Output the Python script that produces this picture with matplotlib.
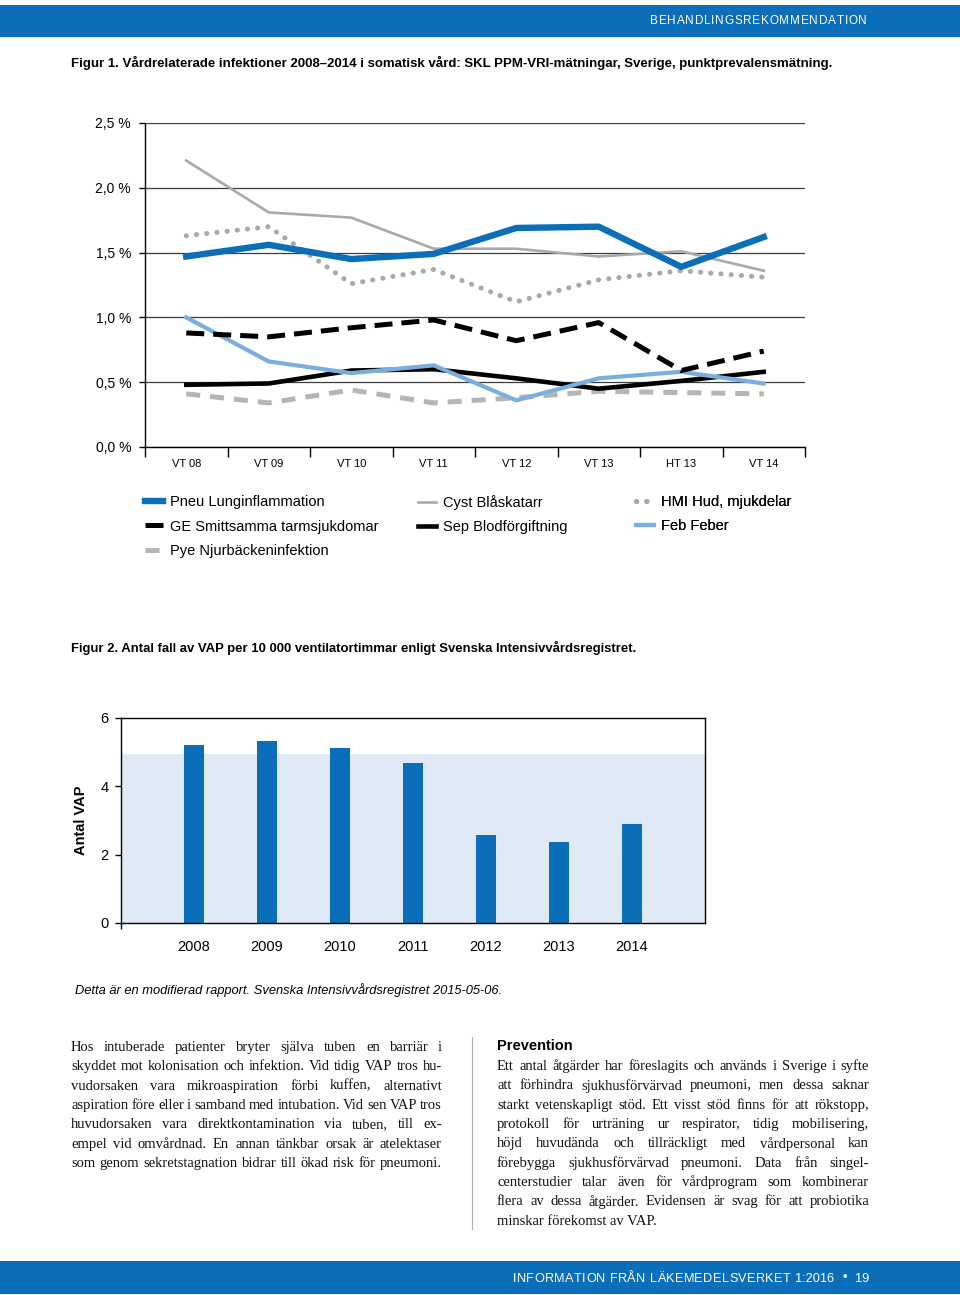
import matplotlib
matplotlib.use("Agg")
import matplotlib.pyplot as plt
from matplotlib.lines import Line2D
from matplotlib.patches import Rectangle
import numpy as np

W, H = 960, 1295

# --- Figur 1: punktprevalens per infektionstyp (%) ---
perioder = ["VT 08", "VT 09", "VT 10", "VT 11", "VT 12", "VT 13", "HT 13", "VT 14"]
pneu = [1.47, 1.56, 1.45, 1.49, 1.69, 1.70, 1.39, 1.62]
cyst = [2.21, 1.81, 1.77, 1.53, 1.53, 1.47, 1.51, 1.36]
hmi = [1.63, 1.70, 1.26, 1.37, 1.12, 1.29, 1.36, 1.31]
ge = [0.88, 0.85, 0.92, 0.98, 0.82, 0.96, 0.59, 0.74]
sep = [0.48, 0.49, 0.59, 0.60, 0.53, 0.45, 0.51, 0.58]
feb = [1.00, 0.66, 0.57, 0.63, 0.36, 0.53, 0.58, 0.49]
pye = [0.41, 0.34, 0.44, 0.34, 0.38, 0.43, 0.42, 0.41]
y_ticks1 = [0.0, 0.5, 1.0, 1.5, 2.0, 2.5]

# --- Figur 2: VAP per 10 000 ventilatortimmar ---
ar = [2008, 2009, 2010, 2011, 2012, 2013, 2014]
vap = [5.22, 5.33, 5.13, 4.67, 2.59, 2.36, 2.91]
vap_niva = 4.95
y_ticks2 = [0, 2, 4, 6]

# --- text ---
header = "BEHANDLINGSREKOMMENDATION"
footer = "INFORMATION FRÅN LÄKEMEDELSVERKET 1:2016  •  19"
titel1 = ("Figur 1. Vårdrelaterade infektioner 2008–2014 i somatisk vård: "
          "SKL PPM-VRI-mätningar, Sverige, punktprevalensmätning.")
titel2 = "Figur 2. Antal fall av VAP per 10 000 ventilatortimmar enligt Svenska Intensivvårdsregistret."
kalla = "Detta är en modifierad rapport. Svenska Intensivvårdsregistret 2015-05-06."
vanster = [
    "Hos intuberade patienter bryter själva tuben en barriär i",
    "skyddet mot kolonisation och infektion. Vid tidig VAP tros hu-",
    "vudorsaken vara mikroaspiration förbi kuffen, alternativt",
    "aspiration före eller i samband med intubation. Vid sen VAP tros",
    "huvudorsaken vara direktkontamination via tuben, till ex-",
    "empel vid omvårdnad. En annan tänkbar orsak är atelektaser",
    "som genom sekretstagnation bidrar till ökad risk för pneumoni.",
]
hoger = [
    "Ett antal åtgärder har föreslagits och används i Sverige i syfte",
    "att förhindra sjukhusförvärvad pneumoni, men dessa saknar",
    "starkt vetenskapligt stöd. Ett visst stöd finns för att rökstopp,",
    "protokoll för urträning ur respirator, tidig mobilisering,",
    "höjd huvudända och tillräckligt med vårdpersonal kan",
    "förebygga sjukhusförvärvad pneumoni. Data från singel-",
    "centerstudier talar även för vårdprogram som kombinerar",
    "flera av dessa åtgärder. Evidensen är svag för att probiotika",
    "minskar förekomst av VAP.",
]

BLUE = "#0a6fb8"
SANS = "Liberation Sans"
SERIF = "Liberation Serif"

fig = plt.figure(figsize=(9.6, 12.95), dpi=100)
renderer = fig.canvas.get_renderer()


def fx(x):
    return x / W


def fy(y):
    return 1 - y / H


def text_width(s, **kw):
    t = fig.text(0, 0, s, **kw)
    w = t.get_window_extent(renderer=renderer).width
    t.remove()
    return w


def spread(tokens, widths, x0, x1, y, **kw):
    gap = (x1 - x0 - sum(widths)) / max(len(tokens) - 1, 1)
    x = x0
    for tok, w in zip(tokens, widths):
        if tok.strip():
            fig.text(fx(x), fy(y), tok, ha="left", va="center_baseline", **kw)
        x += w + gap


def tracked(s, x0, x1, y, **kw):
    # bokstäver spärras var för sig, siffergrupper hålls ihop
    sp = text_width("a a", **kw) - text_width("aa", **kw)
    tokens = []
    for i, word in enumerate(s.split(" ")):
        if i:
            tokens.append(" ")
        if word.isalpha():
            tokens.extend(word)
        elif word:
            tokens.append(word)
    widths = [sp if t == " " else text_width(t, **kw) for t in tokens]
    spread(tokens, widths, x0, x1, y, **kw)


def justify(lines, x0, x1, y0, step, **kw):
    for i, line in enumerate(lines):
        y = y0 + i * step
        if i == len(lines) - 1 and text_width(line, **kw) < 0.9 * (x1 - x0):
            fig.text(fx(x0), fy(y), line, ha="left", va="center_baseline", **kw)
            continue
        words = line.split()
        widths = [text_width(w, **kw) for w in words]
        spread(words, widths, x0, x1, y, **kw)


def fit_size(s, target, base=10, **kw):
    return base * target / text_width(s, size=base, **kw)


def words_ratio(lines, target, min_gap, base, **kw):
    out = []
    for l in lines:
        words = l.split()
        tot = sum(text_width(w, size=base, **kw) for w in words)
        out.append((target - min_gap * (len(words) - 1)) / tot)
    return min(out)


# --- band uppe och nere ---
fig.patches.append(Rectangle((0, fy(37)), 1, 32 / H, transform=fig.transFigure,
                             color=BLUE, lw=0))
fig.patches.append(Rectangle((0, fy(1294)), 1, 33 / H, transform=fig.transFigure,
                             color=BLUE, lw=0))
tracked(header, 650, 867, 20, family=SANS, size=8.5, color="white")
tracked(footer, 513, 869, 1277, family=SANS, size=9.2, color="white")

# --- rubriker ---
fig.text(fx(71), fy(61), titel1, ha="left", va="center_baseline", family=SANS,
         weight="bold", size=fit_size(titel1, 765, family=SANS, weight="bold"))
fig.text(fx(71), fy(646), titel2, ha="left", va="center_baseline", family=SANS,
         weight="bold", size=fit_size(titel2, 572, family=SANS, weight="bold"))
fig.text(fx(75), fy(989), kalla, ha="left", va="center_baseline", family=SANS,
         style="italic", size=fit_size(kalla, 429, family=SANS, style="italic"))

# --- Figur 1 ---
ax1 = fig.add_axes([fx(145), fy(447), (805 - 145) / W, (447 - 123) / H])
x = np.arange(len(perioder))
l_cyst, = ax1.plot(x, cyst, color="#a9a9a9", lw=1.9, label="Cyst Blåskatarr")
l_hmi, = ax1.plot(x, hmi, color="#a9a9a9", lw=3.6, ls=(0, (0.05, 2.0)),
                  dash_capstyle="round", label="HMI Hud, mjukdelar")
l_pneu, = ax1.plot(x, pneu, color=BLUE, lw=4.6, label="Pneu Lunginflammation")
l_pye, = ax1.plot(x, pye, color="#b5b5b5", lw=3.6, ls=(0, (2.8, 2.0)),
                  label="Pye Njurbäckeninfektion")
l_sep, = ax1.plot(x, sep, color="black", lw=3.3, label="Sep Blodförgiftning")
l_feb, = ax1.plot(x, feb, color="#7aaee0", lw=3.0, label="Feb Feber")
l_ge, = ax1.plot(x, ge, color="black", lw=3.6, ls=(0, (3.6, 1.8)),
                 label="GE Smittsamma tarmsjukdomar")

ax1.set_xlim(-0.5, len(perioder) - 0.5)
ax1.set_ylim(0, 2.5)
ax1.set_yticks(y_ticks1)
ax1.set_yticklabels([f"{v:.1f} %".replace(".", ",") for v in y_ticks1],
                    family=SANS, size=10)
ax1.set_xticks(np.arange(len(perioder) + 1) - 0.5)
ax1.set_xticklabels([])
ax1.set_xticks(x, minor=True)
ax1.set_xticklabels(perioder, minor=True, family=SANS, size=8)
ax1.tick_params(axis="x", which="major", length=7, width=1, direction="out")
ax1.tick_params(axis="x", which="minor", length=0, pad=9)
ax1.tick_params(axis="y", length=4, width=1, pad=6)
ax1.yaxis.grid(True, color="#3c3c3c", lw=0.9)
ax1.set_axisbelow(True)
for s in ["top", "right"]:
    ax1.spines[s].set_visible(False)
for s in ["left", "bottom"]:
    ax1.spines[s].set_linewidth(1.0)
    ax1.spines[s].set_color("black")

leg_kw = dict(loc="upper left", bbox_transform=fig.transFigure, frameon=False,
              borderpad=0, borderaxespad=0, handlelength=1.2, handletextpad=0.5,
              labelspacing=0.72, prop={"family": SANS, "size": 10.5})
for handles, xpos in [([l_pneu, l_ge, l_pye], 145),
                      ([l_cyst, l_sep], 418),
                      ([l_hmi, l_feb], 636)]:
    leg = ax1.legend(handles=handles, bbox_to_anchor=(fx(xpos), fy(495)), **leg_kw)
    ax1.add_artist(leg)

# --- Figur 2 ---
ax2 = fig.add_axes([fx(121), fy(923), (705 - 121) / W, (923 - 718) / H])
ax2.axhspan(0, vap_niva, color="#dfeaf6", lw=0, zorder=0)
ax2.bar(ar, vap, width=0.28, color=BLUE, zorder=2)
ax2.set_xlim(ar[0] - 1, ar[-1] + 1)
ax2.set_ylim(0, 6)
ax2.set_yticks(y_ticks2)
ax2.set_yticklabels([str(v) for v in y_ticks2], family=SANS, size=10.5)
ax2.set_xticks(ar)
ax2.set_xticklabels([str(a) for a in ar], family=SANS, size=10.5)
ax2.set_xticks([ar[0] - 1], minor=True)
ax2.tick_params(axis="x", which="major", length=0, pad=12)
ax2.tick_params(axis="x", which="minor", length=4, width=1)
ax2.tick_params(axis="y", length=4, width=1, pad=5)
ax2.set_ylabel("Antal VAP", family=SANS, weight="bold", size=10.5, labelpad=9)
for s in ax2.spines.values():
    s.set_linewidth(1.0)
    s.set_color("black")

# --- brödtext ---
step = (1162 - 1046) / 6
base = 10
ratio = min(words_ratio(vanster, 371, 2.5, base, family=SERIF),
            words_ratio(hoger[:-1], 372, 2.5, base, family=SERIF))
body = dict(family=SERIF, size=base * ratio * 0.99, color="#111111")
justify(vanster, 71, 442, 1046, step, **body)
fig.text(fx(497), fy(1045), "Prevention", ha="left", va="center_baseline",
         family=SANS, weight="bold", size=10.5)
justify(hoger, 497, 869, 1065, step, **body)
fig.add_artist(Line2D([fx(472), fx(472)], [fy(1037), fy(1229)],
                      transform=fig.transFigure, color="#b0b0b0", lw=0.8))

fig.savefig("out.png", dpi=100)
